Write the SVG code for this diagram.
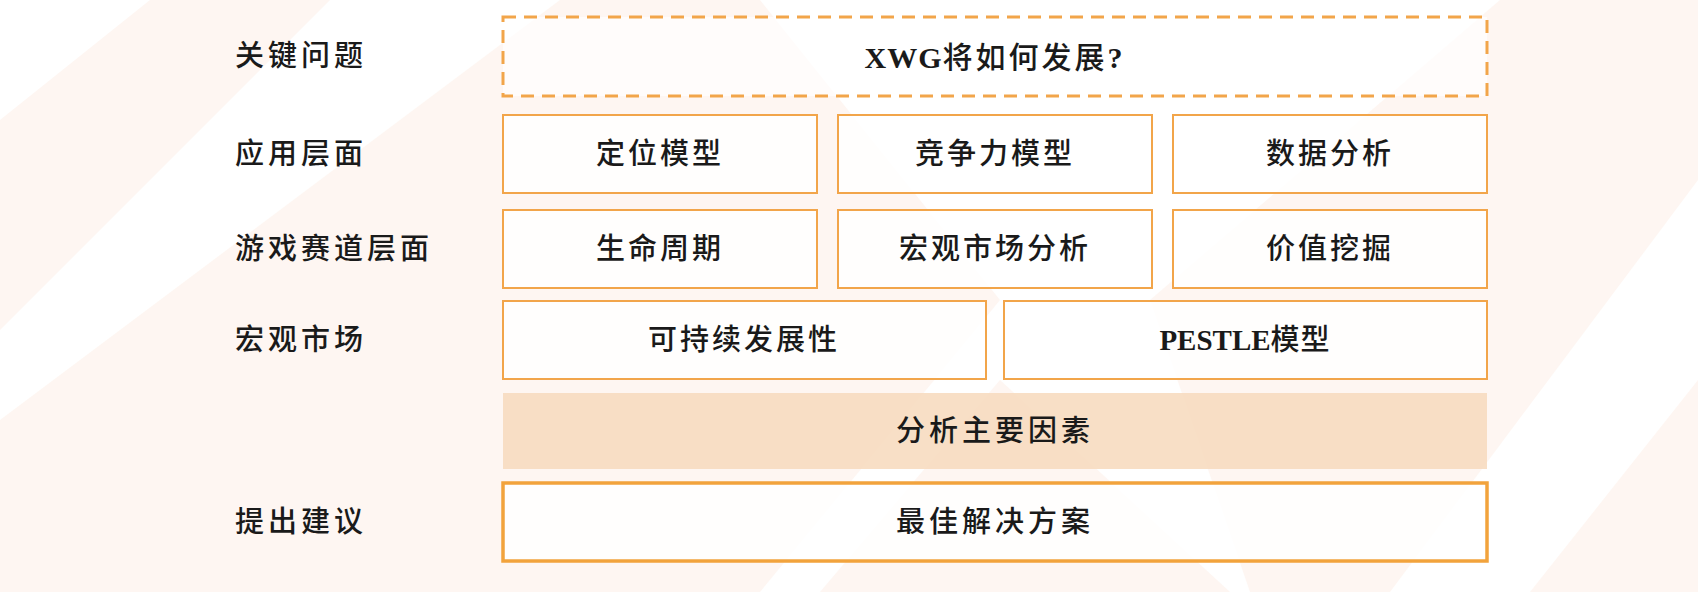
<svg xmlns="http://www.w3.org/2000/svg" width="1698" height="592" viewBox="0 0 1698 592">
<style>
.lbl{font-family:"Liberation Serif","Noto Sans CJK SC",serif;font-size:29px;font-weight:500;fill:#1a1a1a;letter-spacing:4px;dominant-baseline:central}
.txt{font-family:"Liberation Serif","Noto Sans CJK SC",serif;font-size:29px;font-weight:500;fill:#1a1a1a;text-anchor:middle;dominant-baseline:central;letter-spacing:3px}
.lat{font-weight:bold}
.box{fill:#fff;fill-opacity:0.85;stroke:#F2A54A;stroke-width:2}
.wm{fill:#FDEEE6;opacity:0.5}
</style>
<g id="watermark">
<polygon class="wm" points="0,120 150,0 330,0 0,330"/>
<polygon class="wm" points="0,592 0,420 560,0 760,0 1000,300 760,592"/>
<polygon class="wm" points="820,592 1000,380 1230,592"/>
<polygon class="wm" points="1150,300 1500,0 1698,0 1698,180 1390,592 1250,592"/>
<polygon class="wm" points="1530,592 1698,380 1698,592"/>
</g>
<g id="labels">
<text class="lbl" x="235" y="56">关键问题</text>
<text class="lbl" x="235" y="154">应用层面</text>
<text class="lbl" x="235" y="249">游戏赛道层面</text>
<text class="lbl" x="235" y="340">宏观市场</text>
<text class="lbl" x="235" y="522">提出建议</text>
</g>
<g id="n-question">
<rect x="503" y="17" width="984" height="79" fill="#fff" fill-opacity="0.7" stroke="#F2A54A" stroke-width="3" stroke-dasharray="13,8"/>
<text class="txt" x="995" y="57" style="letter-spacing:3px;font-size:30px"><tspan class="lat" style="letter-spacing:1px">XWG</tspan>将如何发展<tspan class="lat">?</tspan></text>
</g>
<g id="n-positioning"><rect class="box" x="503" y="115" width="314" height="78"/><text class="txt" x="660" y="154">定位模型</text></g>
<g id="n-competitive"><rect class="box" x="838" y="115" width="314" height="78"/><text class="txt" x="995" y="154">竞争力模型</text></g>
<g id="n-data"><rect class="box" x="1173" y="115" width="314" height="78"/><text class="txt" x="1330" y="154">数据分析</text></g>
<g id="n-lifecycle"><rect class="box" x="503" y="210" width="314" height="78"/><text class="txt" x="660" y="249">生命周期</text></g>
<g id="n-macro"><rect class="box" x="838" y="210" width="314" height="78"/><text class="txt" x="995" y="249">宏观市场分析</text></g>
<g id="n-value"><rect class="box" x="1173" y="210" width="314" height="78"/><text class="txt" x="1330" y="249">价值挖掘</text></g>
<g id="n-sustain"><rect class="box" x="503" y="301" width="483" height="78"/><text class="txt" x="744" y="340">可持续发展性</text></g>
<g id="n-pestle"><rect class="box" x="1004" y="301" width="483" height="78"/><text class="txt" x="1245" y="340" style="letter-spacing:1px"><tspan class="lat" style="letter-spacing:0">PESTLE</tspan>模型</text></g>
<g id="n-factors"><rect x="503" y="393" width="984" height="76" fill="#F7DCC0" fill-opacity="0.9"/><text class="txt" x="995" y="431" style="letter-spacing:4px">分析主要因素</text></g>
<g id="n-solution"><rect x="503" y="483" width="984" height="78" fill="#fff" fill-opacity="0.85" stroke="#F2A33C" stroke-width="3.5"/><text class="txt" x="995" y="522" style="letter-spacing:4px">最佳解决方案</text></g>
<g id="connectors"/>
</svg>
